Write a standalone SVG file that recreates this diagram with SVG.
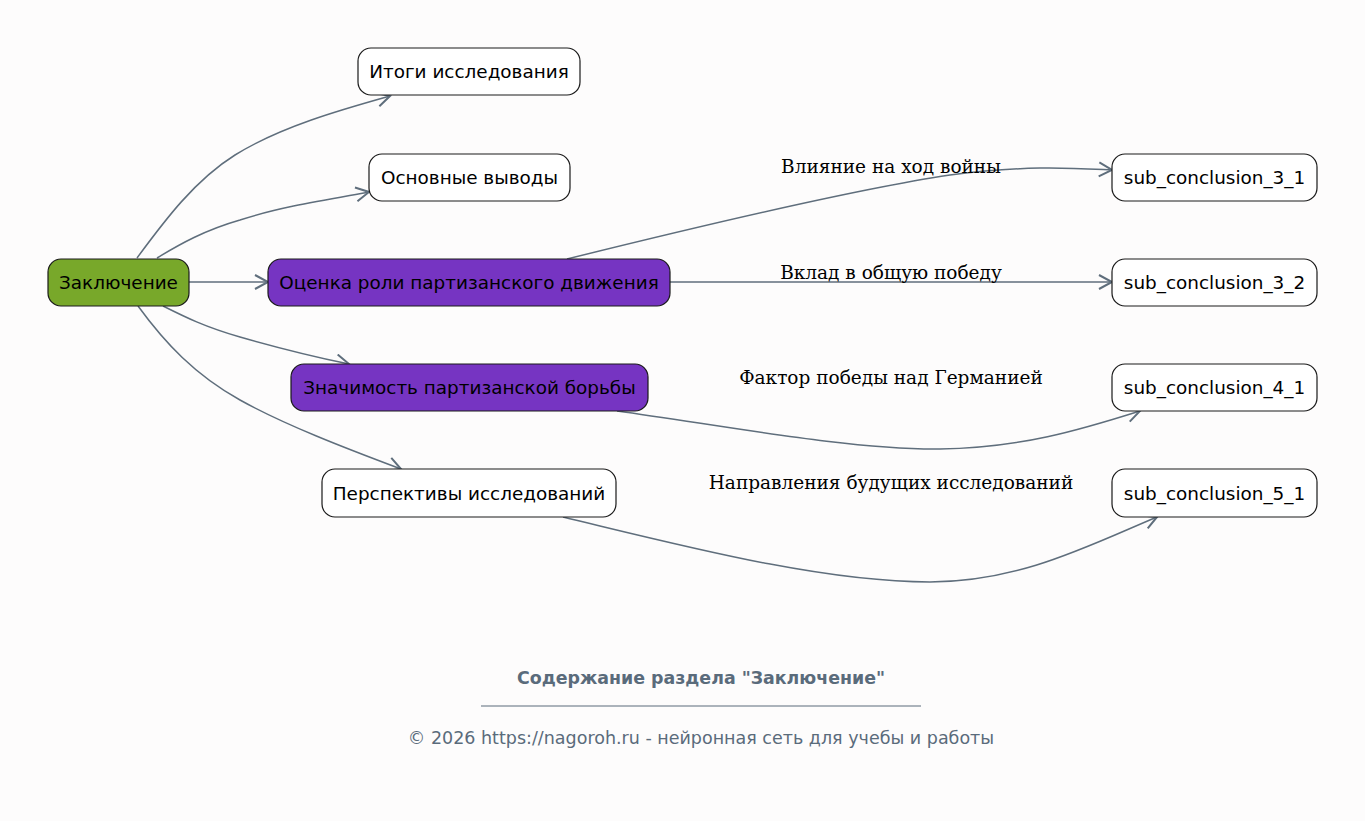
<svg xmlns="http://www.w3.org/2000/svg" width="1365" height="821" viewBox="0 0 1365 821">
<style>
.bg{fill:#fdfcfc}
.node rect{stroke:#1a1a1a;stroke-width:1.2}
.w{fill:#ffffff}
.g{fill:#78a82a}
.p{fill:#7634c2}
.nt{font-family:"DejaVu Sans",sans-serif;font-size:18.4px;fill:#000;text-anchor:middle;dominant-baseline:central}
.edges path{fill:none;stroke:#5f6e7c;stroke-width:1.5}
.lbl{font-family:"DejaVu Serif",serif;font-size:18.5px;fill:#000;text-anchor:middle;dominant-baseline:central}
.ft{font-family:"DejaVu Sans",sans-serif;fill:#5a6b7b;text-anchor:middle}
</style>
<defs>
<marker id="arr" markerWidth="18" markerHeight="18" refX="14" refY="8" orient="auto" markerUnits="userSpaceOnUse">
<path d="M1,1 L14,8 L1,15" fill="none" stroke="#5f6e7c" stroke-width="2"/>
</marker>
</defs>
<rect class="bg" x="0" y="0" width="1365" height="821"/>
<g class="edges">
<path d="M137,258 C165,220 195,180 235,155 C280,127 340,110 390,96" marker-end="url(#arr)"/>
<path d="M157,258 C180,244 205,230 240,220 C280,207 325,200 369,192" marker-end="url(#arr)"/>
<path d="M189,282 L268,282" marker-end="url(#arr)"/>
<path d="M163,306 C185,317 205,327 240,337 C275,347 310,356 349,364" marker-end="url(#arr)"/>
<path d="M138,306 C165,343 195,375 240,400 C285,425 345,448 401,469" marker-end="url(#arr)"/>
<path d="M567,259 C700,226 850,190 950,175 C1030,165 1070,168 1112,170" marker-end="url(#arr)"/>
<path d="M670,282 L1112,282" marker-end="url(#arr)"/>
<path d="M617,411 C720,425 850,450 940,449 C1020,448 1080,430 1140,411" marker-end="url(#arr)"/>
<path d="M563,517 C680,545 820,582 930,582 C1020,582 1090,545 1157,517" marker-end="url(#arr)"/>
<text class="lbl" x="891" y="166">Влияние на ход войны</text>
<text class="lbl" x="891" y="272">Вклад в общую победу</text>
<text class="lbl" x="891" y="377">Фактор победы над Германией</text>
<text class="lbl" x="891" y="482">Направления будущих исследований</text>
</g>
<g id="n_root" class="node"><rect class="g" x="48" y="259" width="141" height="47" rx="13"/><text class="nt" x="118.5" y="282.5">Заключение</text></g>
<g id="n1" class="node"><rect class="w" x="358" y="48" width="222" height="47" rx="13"/><text class="nt" x="469" y="71.5">Итоги исследования</text></g>
<g id="n2" class="node"><rect class="w" x="369" y="154" width="201" height="47" rx="13"/><text class="nt" x="469.5" y="177.5">Основные выводы</text></g>
<g id="n3" class="node"><rect class="p" x="268" y="259" width="402" height="47" rx="13"/><text class="nt" x="469" y="282.5">Оценка роли партизанского движения</text></g>
<g id="n4" class="node"><rect class="p" x="291" y="364" width="357" height="47" rx="13"/><text class="nt" x="469.5" y="387.5">Значимость партизанской борьбы</text></g>
<g id="n5" class="node"><rect class="w" x="322" y="469" width="294" height="48" rx="13"/><text class="nt" x="469" y="493">Перспективы исследований</text></g>
<g id="s31" class="node"><rect class="w" x="1112" y="154" width="205" height="47" rx="13"/><text class="nt" x="1214.5" y="177.5">sub_conclusion_3_1</text></g>
<g id="s32" class="node"><rect class="w" x="1112" y="259" width="205" height="47" rx="13"/><text class="nt" x="1214.5" y="282.5">sub_conclusion_3_2</text></g>
<g id="s41" class="node"><rect class="w" x="1112" y="364" width="205" height="47" rx="13"/><text class="nt" x="1214.5" y="387.5">sub_conclusion_4_1</text></g>
<g id="s51" class="node"><rect class="w" x="1112" y="469" width="205" height="48" rx="13"/><text class="nt" x="1214.5" y="493">sub_conclusion_5_1</text></g>
<g id="footer">
<text class="ft" x="701" y="683.5" font-size="17.4" font-weight="bold">Содержание раздела "Заключение"</text>
<line x1="481" y1="706" x2="921" y2="706" stroke="#5a6b7b" stroke-width="1"/>
<text class="ft" x="701" y="743.5" font-size="17.5">© 2026 https://nagoroh.ru - нейронная сеть для учебы и работы</text>
</g>
</svg>
